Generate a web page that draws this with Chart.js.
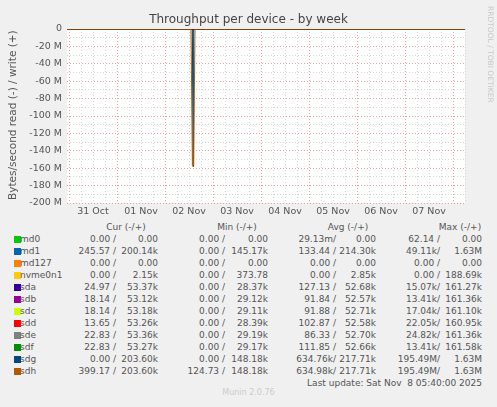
<!DOCTYPE html>
<html><head><meta charset="utf-8">
<script src="https://cdn.jsdelivr.net/npm/chart.js@4"></script>
<style>
body{margin:0;background:#f0f0f0;font-family:"DejaVu Sans",sans-serif;color:#555;width:497px;height:407px;overflow:hidden;position:relative}
#wrap{position:absolute;left:0;top:0;width:497px;height:220px}
.t{position:absolute;font-size:9px;white-space:pre;line-height:12px}
.r{text-align:right}
.sq{position:absolute;width:7px;height:7px}
</style></head><body>
<div id="wrap"><canvas id="c" width="497" height="220"></canvas></div>
<div class="t" style="left:0;width:497px;top:12px;text-align:center;font-size:12px;line-height:14px;color:#444">Throughput per device - by week</div>
<div class="t" style="left:6px;top:200px;font-size:10.5px;transform:rotate(-90deg);transform-origin:0 0;color:#555">Bytes/second read (-) / write (+)</div>
<div class="t" style="left:484px;top:6px;font-size:7.5px;writing-mode:vertical-rl;color:#c8c8c8">RRDTOOL / TOBI OETIKER</div>
<div id="leg"></div>
<div class="t" style="left:0;width:497px;top:387px;text-align:center;font-size:8px;color:#ccc">Munin 2.0.76</div>
<script>
const hours=[-1,61,61.7,62,62.3,63,198];
const sdgRead=[0,0,0,-158e6,0,0,0];
const sdhRead=[0,0,-157e6,-158e6,-157e6,0,0];
const names=["md0","md1","md127","nvme0n1","sda","sdb","sdc","sdd","sde","sdf","sdg","sdh"];
const colors=["#00cc00","#0066b3","#ff8000","#ffcc00","#330099","#990099","#ccff00","#ff0000","#808080","#008f00","#00487d","#b35a00"];
const cur=[["0.00","0.00"],["245.57","200.14k"],["0.00","0.00"],["0.00","2.15k"],["24.97","53.37k"],["18.14","53.12k"],["18.14","53.18k"],["13.65","53.26k"],["22.83","53.36k"],["22.83","53.27k"],["0.00","203.60k"],["399.17","203.60k"]];
const mins=[["0.00","0.00"],["0.00","145.17k"],["0.00","0.00"],["0.00","373.78"],["0.00","28.37k"],["0.00","29.12k"],["0.00","29.11k"],["0.00","28.39k"],["0.00","29.19k"],["0.00","29.17k"],["0.00","148.18k"],["124.73","148.18k"]];
const avgs=[["29.13m","0.00"],["133.44","214.30k"],["0.00","0.00"],["0.00","2.85k"],["127.13","52.68k"],["91.84","52.57k"],["91.88","52.71k"],["102.87","52.58k"],["86.33","52.70k"],["111.85","52.66k"],["634.76k","217.71k"],["634.98k","217.71k"]];
const maxs=[["62.14","0.00"],["49.11k","1.63M"],["0.00","0.00"],["0.00","188.69k"],["15.07k","161.27k"],["13.41k","161.36k"],["17.04k","161.10k"],["22.05k","160.95k"],["24.82k","161.36k"],["13.41k","161.58k"],["195.49M","1.63M"],["195.49M","1.63M"]];
const dayLabels={12:"31 Oct",36:"01 Nov",60:"02 Nov",84:"03 Nov",108:"04 Nov",132:"05 Nov",156:"06 Nov",180:"07 Nov"};
const yTicks=[0,-20,-40,-60,-80,-100,-120,-140,-160,-180,-200];

const zeroLine=[{x:-1,y:0},{x:198,y:0}];
const ds=names.map((n,i)=>({data:zeroLine,borderColor:colors[i],borderWidth:1,pointRadius:0,order:3}));
ds[10].data=hours.map((h,i)=>({x:h,y:sdgRead[i]}));ds[10].order=2;
ds[11].data=hours.map((h,i)=>({x:h,y:sdhRead[i]}));ds[11].order=0;
ds.push({data:zeroLine,borderColor:"#4a2a10",borderWidth:2,pointRadius:0,order:1});

const bgPlugin={id:'bg',beforeDraw(c){const a=c.chartArea,x=c.ctx;x.save();x.fillStyle='#fff';x.fillRect(a.left,a.top,a.right-a.left,a.bottom-a.top);x.restore();}};
new Chart(document.getElementById('c'),{type:'line',data:{datasets:ds},plugins:[bgPlugin],
options:{responsive:false,animation:false,
layout:{padding:{left:0,right:32,top:29,bottom:0}},
plugins:{legend:{display:false},tooltip:{enabled:false}},
scales:{
x:{type:'linear',min:-1,max:198,
 afterFit(s){s.height=17;},
 afterBuildTicks(s){const t=[];for(let v=0;v<=198;v+=6)t.push({value:v});s.ticks=t;},
 grid:{color:c=>c.tick&&c.tick.value%24===0?'rgba(235,150,150,0.9)':'rgba(205,205,205,0.8)',drawTicks:false},
 border:{display:false,dash:[1,2]},
 ticks:{autoSkip:false,maxRotation:0,padding:3,color:'#555',font:{family:'DejaVu Sans',size:9.5},callback:v=>dayLabels[v]||''}},
y:{min:-200e6,max:0,
 afterFit(s){s.width=67;},
 afterBuildTicks(s){const t=[];for(let v=0;v>=-200;v-=10)t.push({value:v*1e6});s.ticks=t;},
 grid:{color:c=>c.tick&&(c.tick.value/1e6)%20===0?'rgba(235,150,150,0.9)':'rgba(205,205,205,0.8)',drawTicks:false},
 border:{display:false,dash:[1,2]},
 ticks:{autoSkip:false,padding:5,color:'#555',font:{family:'DejaVu Sans',size:9.5},callback:v=>{const m=Math.round(v/1e6);return yTicks.includes(m)?(m===0?'0':m+' M'):'';}}}
}}});

const leg=document.getElementById('leg');
let h='';
const hdr=[["Cur (-/+)",126],["Min (-/+)",237],["Avg (-/+)",348],["Max (-/+)",460]];
hdr.forEach(([t,x])=>{h+=`<div class="t" style="left:${x-40}px;width:80px;text-align:center;top:221px">${t}</div>`;});
const cols=[[cur,116,158],[mins,225,268],[avgs,336,376],[maxs,440,482]];
names.forEach((n,i)=>{const y=233+i*12;
 h+=`<div class="sq" style="left:14px;top:${y+3}px;background:${colors[i]}"></div>`;
 h+=`<div class="t" style="left:20px;top:${y}px">${n}</div>`;
 cols.forEach(([arr,a,b])=>{
  const av=arr[i][0];const sep=/[kMm]$/.test(av)?'/':' /';
  h+=`<div class="t r" style="left:${a-80}px;width:80px;top:${y}px">${av}${sep}</div>`;
  h+=`<div class="t r" style="left:${b-80}px;width:80px;top:${y}px">${arr[i][1]}</div>`;});
});
h+=`<div class="t r" style="left:182px;width:300px;top:377px">Last update: Sat Nov  8 05:40:00 2025</div>`;
leg.innerHTML=h;
</script></body></html>
